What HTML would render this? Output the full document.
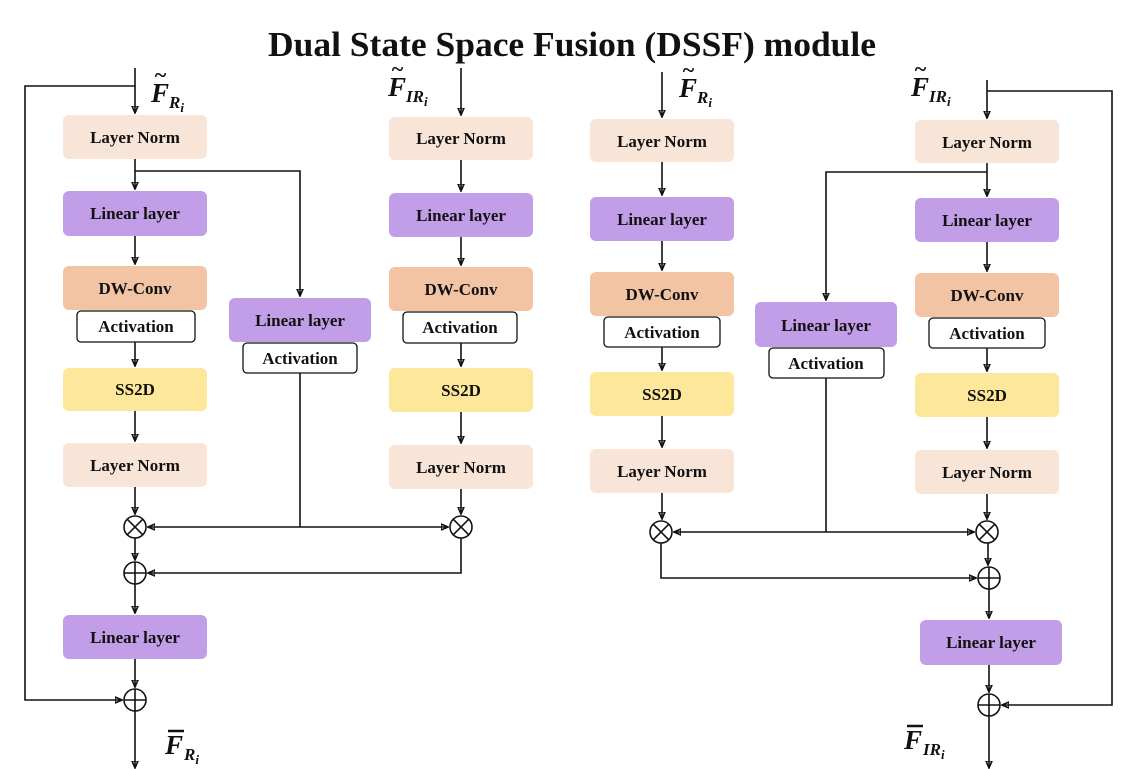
<!DOCTYPE html>
<html><head><meta charset="utf-8"><style>
html,body{margin:0;padding:0;background:#fff;}
svg{display:block;}
text{font-family:"Liberation Serif",serif;font-weight:bold;}
.b{font-size:17px;text-anchor:middle;fill:#111;}
.m{font-size:27px;font-style:italic;fill:#111;}
.s{font-size:17px;font-style:italic;fill:#111;}
line,polyline,path{stroke:#111;stroke-width:1.6;fill:none;}
</style></head><body>
<svg width="1121" height="769" viewBox="0 0 1121 769" xmlns="http://www.w3.org/2000/svg">
<defs>
<marker id="a" markerWidth="8" markerHeight="8" refX="7" refY="4" orient="auto" markerUnits="userSpaceOnUse"><path d="M0,1 L7,4 L0,7 Z" fill="#111" stroke="none"/></marker>
<g id="ox"><circle r="11" fill="#fff" stroke="#111" stroke-width="1.6"/><line x1="-7.8" y1="-7.8" x2="7.8" y2="7.8"/><line x1="-7.8" y1="7.8" x2="7.8" y2="-7.8"/></g>
<g id="op"><circle r="11" fill="#fff" stroke="#111" stroke-width="1.6"/><line x1="-11" y1="0" x2="11" y2="0"/><line x1="0" y1="-11" x2="0" y2="11"/></g>
</defs>
<text x="572" y="56" style="font-size:35px;text-anchor:middle;fill:#111" textLength="608" lengthAdjust="spacingAndGlyphs">Dual State Space Fusion (DSSF) module</text>

<!-- ===== LEFT HALF ===== -->
<line x1="135" y1="68" x2="135" y2="113" marker-end="url(#a)"/>
<polyline points="135,86 25,86 25,700 122,700" marker-end="url(#a)"/>
<text x="151" y="102" class="m">F</text><text x="154" y="82" class="m" style="font-size:22px">~</text><text x="169" y="108" class="s">R<tspan font-size="13" dy="4">i</tspan></text>
<rect x="63" y="115" width="144" height="44" rx="6" fill="#f9e4d8"/><text x="135" y="143" class="b">Layer Norm</text>
<line x1="135" y1="159" x2="135" y2="189" marker-end="url(#a)"/>
<polyline points="135,171 300,171 300,296" marker-end="url(#a)"/>
<rect x="63" y="191" width="144" height="45" rx="6" fill="#c29de8"/><text x="135" y="219" class="b">Linear layer</text>
<line x1="135" y1="236" x2="135" y2="264" marker-end="url(#a)"/>
<rect x="63" y="266" width="144" height="44" rx="6" fill="#f2c4a3"/><text x="135" y="294" class="b">DW-Conv</text>
<rect x="77" y="311" width="118" height="31" rx="4" fill="#fff" stroke="#111" stroke-width="1.3"/><text x="136" y="332" class="b">Activation</text>
<line x1="135" y1="342" x2="135" y2="366" marker-end="url(#a)"/>
<rect x="63" y="368" width="144" height="43" rx="6" fill="#fde79a"/><text x="135" y="395" class="b">SS2D</text>
<line x1="135" y1="411" x2="135" y2="441" marker-end="url(#a)"/>
<rect x="63" y="443" width="144" height="44" rx="6" fill="#f9e4d8"/><text x="135" y="471" class="b">Layer Norm</text>
<line x1="135" y1="487" x2="135" y2="514" marker-end="url(#a)"/>
<use href="#ox" x="135" y="527"/>
<line x1="135" y1="538" x2="135" y2="560" marker-end="url(#a)"/>
<use href="#op" x="135" y="573"/>
<line x1="135" y1="584" x2="135" y2="613" marker-end="url(#a)"/>
<rect x="63" y="615" width="144" height="44" rx="6" fill="#c29de8"/><text x="135" y="643" class="b">Linear layer</text>
<line x1="135" y1="659" x2="135" y2="687" marker-end="url(#a)"/>
<use href="#op" x="135" y="700"/>
<line x1="135" y1="711" x2="135" y2="768" marker-end="url(#a)"/>
<text x="165" y="754" class="m">F</text><line x1="168" y1="731" x2="184" y2="731" style="stroke-width:2.5"/><text x="184" y="760" class="s">R<tspan font-size="13" dy="4">i</tspan></text>
<rect x="229" y="298" width="142" height="44" rx="6" fill="#c29de8"/><text x="300" y="326" class="b">Linear layer</text>
<rect x="243" y="343" width="114" height="30" rx="4" fill="#fff" stroke="#111" stroke-width="1.3"/><text x="300" y="364" class="b">Activation</text>
<line x1="300" y1="373" x2="300" y2="527"/>
<line x1="300" y1="527" x2="148" y2="527" marker-end="url(#a)"/>
<line x1="300" y1="527" x2="448" y2="527" marker-end="url(#a)"/>
<text x="388" y="96" class="m">F</text><text x="391" y="76" class="m" style="font-size:22px">~</text><text x="406" y="102" class="s">IR<tspan font-size="13" dy="4">i</tspan></text>
<line x1="461" y1="68" x2="461" y2="115" marker-end="url(#a)"/>
<rect x="389" y="117" width="144" height="43" rx="6" fill="#f9e4d8"/><text x="461" y="144" class="b">Layer Norm</text>
<line x1="461" y1="160" x2="461" y2="191" marker-end="url(#a)"/>
<rect x="389" y="193" width="144" height="44" rx="6" fill="#c29de8"/><text x="461" y="221" class="b">Linear layer</text>
<line x1="461" y1="237" x2="461" y2="265" marker-end="url(#a)"/>
<rect x="389" y="267" width="144" height="44" rx="6" fill="#f2c4a3"/><text x="461" y="295" class="b">DW-Conv</text>
<rect x="403" y="312" width="114" height="31" rx="4" fill="#fff" stroke="#111" stroke-width="1.3"/><text x="460" y="333" class="b">Activation</text>
<line x1="461" y1="343" x2="461" y2="366" marker-end="url(#a)"/>
<rect x="389" y="368" width="144" height="44" rx="6" fill="#fde79a"/><text x="461" y="396" class="b">SS2D</text>
<line x1="461" y1="412" x2="461" y2="443" marker-end="url(#a)"/>
<rect x="389" y="445" width="144" height="44" rx="6" fill="#f9e4d8"/><text x="461" y="473" class="b">Layer Norm</text>
<line x1="461" y1="489" x2="461" y2="514" marker-end="url(#a)"/>
<use href="#ox" x="461" y="527"/>
<polyline points="461,538 461,573 148,573" marker-end="url(#a)"/>

<!-- ===== RIGHT HALF ===== -->
<text x="679" y="97" class="m">F</text><text x="682" y="77" class="m" style="font-size:22px">~</text><text x="697" y="103" class="s">R<tspan font-size="13" dy="4">i</tspan></text>
<line x1="662" y1="72" x2="662" y2="117" marker-end="url(#a)"/>
<rect x="590" y="119" width="144" height="43" rx="6" fill="#f9e4d8"/><text x="662" y="147" class="b">Layer Norm</text>
<line x1="662" y1="162" x2="662" y2="195" marker-end="url(#a)"/>
<rect x="590" y="197" width="144" height="44" rx="6" fill="#c29de8"/><text x="662" y="225" class="b">Linear layer</text>
<line x1="662" y1="241" x2="662" y2="270" marker-end="url(#a)"/>
<rect x="590" y="272" width="144" height="44" rx="6" fill="#f2c4a3"/><text x="662" y="300" class="b">DW-Conv</text>
<rect x="604" y="317" width="116" height="30" rx="4" fill="#fff" stroke="#111" stroke-width="1.3"/><text x="662" y="338" class="b">Activation</text>
<line x1="662" y1="347" x2="662" y2="370" marker-end="url(#a)"/>
<rect x="590" y="372" width="144" height="44" rx="6" fill="#fde79a"/><text x="662" y="400" class="b">SS2D</text>
<line x1="662" y1="416" x2="662" y2="447" marker-end="url(#a)"/>
<rect x="590" y="449" width="144" height="44" rx="6" fill="#f9e4d8"/><text x="662" y="477" class="b">Layer Norm</text>
<line x1="662" y1="493" x2="662" y2="519" marker-end="url(#a)"/>
<use href="#ox" x="661" y="532"/>
<polyline points="661,543 661,578 976,578" marker-end="url(#a)"/>
<polyline points="987,172 826,172 826,300" marker-end="url(#a)"/>
<rect x="755" y="302" width="142" height="45" rx="6" fill="#c29de8"/><text x="826" y="331" class="b">Linear layer</text>
<rect x="769" y="348" width="115" height="30" rx="4" fill="#fff" stroke="#111" stroke-width="1.3"/><text x="826" y="369" class="b">Activation</text>
<line x1="826" y1="378" x2="826" y2="532"/>
<line x1="826" y1="532" x2="674" y2="532" marker-end="url(#a)"/>
<line x1="826" y1="532" x2="974" y2="532" marker-end="url(#a)"/>
<text x="911" y="96" class="m">F</text><text x="914" y="76" class="m" style="font-size:22px">~</text><text x="929" y="102" class="s">IR<tspan font-size="13" dy="4">i</tspan></text>
<line x1="987" y1="80" x2="987" y2="118" marker-end="url(#a)"/>
<polyline points="987,91 1112,91 1112,705 1002,705" marker-end="url(#a)"/>
<rect x="915" y="120" width="144" height="43" rx="6" fill="#f9e4d8"/><text x="987" y="148" class="b">Layer Norm</text>
<line x1="987" y1="163" x2="987" y2="196" marker-end="url(#a)"/>
<rect x="915" y="198" width="144" height="44" rx="6" fill="#c29de8"/><text x="987" y="226" class="b">Linear layer</text>
<line x1="987" y1="242" x2="987" y2="271" marker-end="url(#a)"/>
<rect x="915" y="273" width="144" height="44" rx="6" fill="#f2c4a3"/><text x="987" y="301" class="b">DW-Conv</text>
<rect x="929" y="318" width="116" height="30" rx="4" fill="#fff" stroke="#111" stroke-width="1.3"/><text x="987" y="339" class="b">Activation</text>
<line x1="987" y1="348" x2="987" y2="371" marker-end="url(#a)"/>
<rect x="915" y="373" width="144" height="44" rx="6" fill="#fde79a"/><text x="987" y="401" class="b">SS2D</text>
<line x1="987" y1="417" x2="987" y2="448" marker-end="url(#a)"/>
<rect x="915" y="450" width="144" height="44" rx="6" fill="#f9e4d8"/><text x="987" y="478" class="b">Layer Norm</text>
<line x1="987" y1="494" x2="987" y2="519" marker-end="url(#a)"/>
<use href="#ox" x="987" y="532"/>
<line x1="988" y1="543" x2="988" y2="565" marker-end="url(#a)"/>
<use href="#op" x="989" y="578"/>
<line x1="989" y1="589" x2="989" y2="618" marker-end="url(#a)"/>
<rect x="920" y="620" width="142" height="45" rx="6" fill="#c29de8"/><text x="991" y="648" class="b">Linear layer</text>
<line x1="989" y1="665" x2="989" y2="692" marker-end="url(#a)"/>
<use href="#op" x="989" y="705"/>
<line x1="989" y1="716" x2="989" y2="768" marker-end="url(#a)"/>
<text x="904" y="749" class="m">F</text><line x1="907" y1="726" x2="923" y2="726" style="stroke-width:2.5"/><text x="923" y="755" class="s">IR<tspan font-size="13" dy="4">i</tspan></text>
</svg>
</body></html>
